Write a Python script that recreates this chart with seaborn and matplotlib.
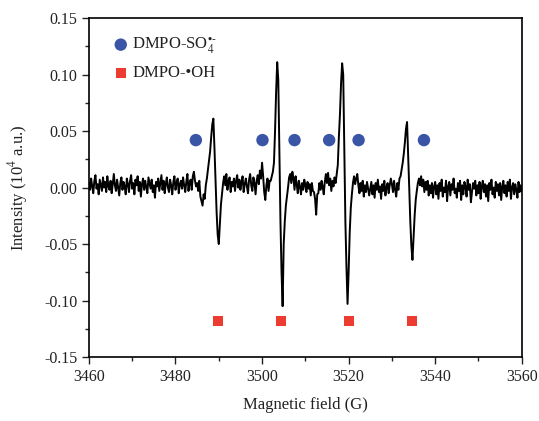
import numpy as np
import pandas as pd
import matplotlib
matplotlib.use("Agg")
import matplotlib.pyplot as plt
from matplotlib.ticker import MultipleLocator
import seaborn as sns

# ---------------- data ----------------
field_start = 3460.0
field_step = 0.25
intensity = [
    # 3460 - 3464.75
    0.004, -0.002, 0.008, 0.001, -0.005, 0.006, 0.011, -0.001, 0.003, -0.006,
    0.007, 0.002, -0.003, 0.009, 0.000, 0.005, -0.004, 0.010, 0.001, -0.002,
    # 3465 - 3469.75
    0.006, -0.005, 0.003, 0.012, 0.002, -0.003, 0.007, 0.000, -0.007, 0.004,
    0.009, -0.002, 0.005, 0.001, -0.006, 0.008, 0.003, -0.004, 0.006, 0.011,
    # 3470 - 3474.75
    -0.001, 0.004, -0.006, 0.007, 0.002, 0.010, -0.003, 0.005, -0.008, 0.003,
    0.008, -0.002, 0.006, 0.000, -0.005, 0.009, 0.004, -0.001, 0.007, -0.004,
    # 3475 - 3479.75
    0.002, -0.009, 0.005, 0.001, 0.008, -0.003, 0.004, 0.011, -0.002, 0.006,
    -0.005, 0.003, 0.009, 0.000, -0.004, 0.007, 0.002, -0.006, 0.005, 0.010,
    # 3480 - 3484.75
    -0.002, 0.004, 0.008, -0.005, 0.003, 0.006, -0.001, 0.009, 0.002, -0.004,
    0.005, 0.012, -0.003, 0.004, 0.007, -0.002, 0.010, 0.014, 0.006, 0.001,
    # 3485 - 3489.75
    0.004, -0.003, 0.006, -0.008, -0.012, -0.016, -0.006, -0.010, 0.002, 0.008,
    0.016, 0.024, 0.032, 0.045, 0.056, 0.061, 0.035, 0.005, -0.022, -0.042,
    # 3490 - 3494.75
    -0.050, -0.033, -0.015, -0.005, 0.004, 0.010, 0.002, 0.012, -0.002, 0.006,
    0.009, -0.004, 0.005, 0.001, 0.008, -0.003, 0.006, 0.011, 0.000, 0.007,
    # 3495 - 3499.75
    -0.002, 0.005, 0.010, -0.004, 0.003, 0.008, 0.001, -0.005, 0.007, 0.012,
    0.002, -0.003, 0.009, 0.004, -0.006, 0.006, 0.011, 0.003, 0.015, 0.008,
    # 3500 - 3504.75
    0.022, 0.010, -0.004, -0.011, 0.002, 0.008, -0.003, 0.006, 0.006, 0.010,
    0.014, 0.022, 0.050, 0.085, 0.111, 0.095, 0.033, -0.030, -0.075, -0.105,
    # 3505 - 3509.75
    -0.050, -0.030, -0.016, -0.008, 0.000, 0.009, 0.012, 0.004, 0.014, 0.008,
    -0.002, 0.010, 0.003, -0.005, 0.006, 0.001, -0.006, 0.004, -0.002, 0.007,
    # 3510 - 3514.75
    0.002, -0.004, 0.005, -0.001, 0.003, -0.007, 0.004, -0.003, -0.004, -0.010,
    -0.024, -0.006, -0.005, 0.004, -0.002, 0.006, 0.001, -0.006, 0.005, 0.012,
    # 3515 - 3519.75
    0.004, 0.013, 0.002, 0.008, -0.003, 0.006, 0.001, 0.009, 0.004, 0.012,
    0.020, 0.045, 0.065, 0.092, 0.110, 0.100, 0.033, -0.030, -0.070, -0.103,
    # 3520 - 3524.75
    -0.075, -0.040, -0.018, -0.006, 0.004, 0.010, 0.003, 0.008, 0.012, 0.002,
    -0.005, 0.004, -0.003, 0.006, -0.008, 0.002, -0.004, 0.005, -0.001, -0.007,
    # 3525 - 3529.75
    -0.001, 0.005, -0.006, 0.002, -0.009, 0.004, -0.002, 0.007, -0.004, 0.001,
    -0.010, 0.003, -0.003, 0.006, -0.007, 0.000, 0.004, -0.005, 0.002, 0.008,
    # 3530 - 3534.75
    0.003, -0.004, 0.006, -0.002, -0.008, 0.004, -0.002, 0.008, 0.010, 0.016,
    0.022, 0.030, 0.040, 0.052, 0.058, 0.030, 0.000, -0.030, -0.052, -0.064,
    # 3535 - 3539.75
    -0.045, -0.025, -0.011, -0.003, 0.004, 0.008, 0.002, 0.010, 0.001, 0.007,
    -0.004, 0.005, -0.002, 0.006, -0.007, 0.002, -0.005, 0.004, -0.009, 0.001,
    # 3540 - 3544.75
    0.005, -0.006, 0.002, -0.010, 0.004, -0.003, 0.007, -0.008, 0.000, -0.004,
    0.006, -0.012, 0.001, 0.005, -0.007, 0.003, -0.002, 0.008, -0.005, -0.001,
    # 3545 - 3549.75
    -0.009, 0.004, -0.003, 0.006, -0.011, 0.002, -0.006, 0.005, 0.001, -0.008,
    0.007, -0.002, 0.003, -0.013, -0.004, 0.004, -0.001, 0.006, -0.007, 0.002,
    # 3550 - 3554.75
    -0.005, 0.005, -0.010, 0.001, 0.006, -0.004, 0.003, -0.008, 0.002, -0.012,
    0.004, -0.002, 0.007, -0.006, 0.000, -0.009, 0.005, -0.003, 0.003, -0.007,
    # 3555 - 3559.75
    0.004, -0.011, 0.001, 0.006, -0.005, 0.002, -0.008, 0.005, -0.003, 0.007,
    -0.010, 0.000, 0.004, -0.006, 0.003, -0.002, -0.009, 0.005, -0.004, 0.002,
    # 3560
    -0.003,
]
field = field_start + field_step * np.arange(len(intensity))

so4_field = [3484.7, 3500.1, 3507.5, 3515.5, 3522.3, 3537.4]
so4_level = [0.042] * len(so4_field)
oh_field = [3489.9, 3504.4, 3520.0, 3534.7]
oh_level = [-0.118] * len(oh_field)

x_ticks = [3460, 3480, 3500, 3520, 3540, 3560]
y_ticks = [-0.15, -0.10, -0.05, 0.00, 0.05, 0.10, 0.15]

# ---------------- style ----------------
sns.set_style("ticks")
plt.rcParams['font.family'] = ['Liberation Serif', 'DejaVu Serif']
plt.rcParams['mathtext.fontset'] = 'stix'
plt.rcParams['font.size'] = 11.5

fig = plt.figure(figsize=(5.39, 4.21), dpi=100)
ax = fig.add_axes([0.165, 0.152, 0.803, 0.805])

spec = pd.DataFrame({"field": field, "intensity": intensity})
sns.lineplot(data=spec, x="field", y="intensity", ax=ax, color="black",
             lw=1.4, estimator=None, sort=False)

sns.scatterplot(x=so4_field, y=so4_level, ax=ax, color="#3B55A6", s=80,
                marker="o", edgecolor="none", zorder=3,
                label=r"DMPO-SO$_4^{\bullet\text{-}}$")
sns.scatterplot(x=oh_field, y=oh_level, ax=ax, color="#EC3B30", s=50,
                marker="s", edgecolor="none", zorder=3,
                label="DMPO-\u2022OH")

ax.set_xlim(3460, 3560)
ax.set_ylim(-0.15, 0.15)
ax.set_xticks(x_ticks)
ax.set_yticks(y_ticks)
ax.set_yticklabels([f"{v:.2f}" for v in y_ticks])
ax.xaxis.set_minor_locator(MultipleLocator(10))
ax.yaxis.set_minor_locator(MultipleLocator(0.025))
ax.tick_params(which="both", direction="out", top=False, right=False,
               colors="#222222", labelsize=11.5)
ax.tick_params(which="major", length=5, width=1.0)
ax.tick_params(which="minor", length=3, width=1.0)
for sp in ax.spines.values():
    sp.set_visible(True)
    sp.set_linewidth(1.2)
    sp.set_color("black")

ax.set_xlabel("Magnetic field (G)", fontsize=12, color="#222222", labelpad=9)
ax.set_ylabel("Intensity (10$^4$ a.u.)", fontsize=12, color="#222222", labelpad=10)

leg = ax.legend(loc="upper left", frameon=False, fontsize=12,
                handletextpad=0.1, borderaxespad=0.0, labelspacing=0.55,
                handlelength=1.2, bbox_to_anchor=(0.035, 0.968))
for t in leg.get_texts():
    t.set_color("#222222")

fig.savefig("out.png", dpi=100)
